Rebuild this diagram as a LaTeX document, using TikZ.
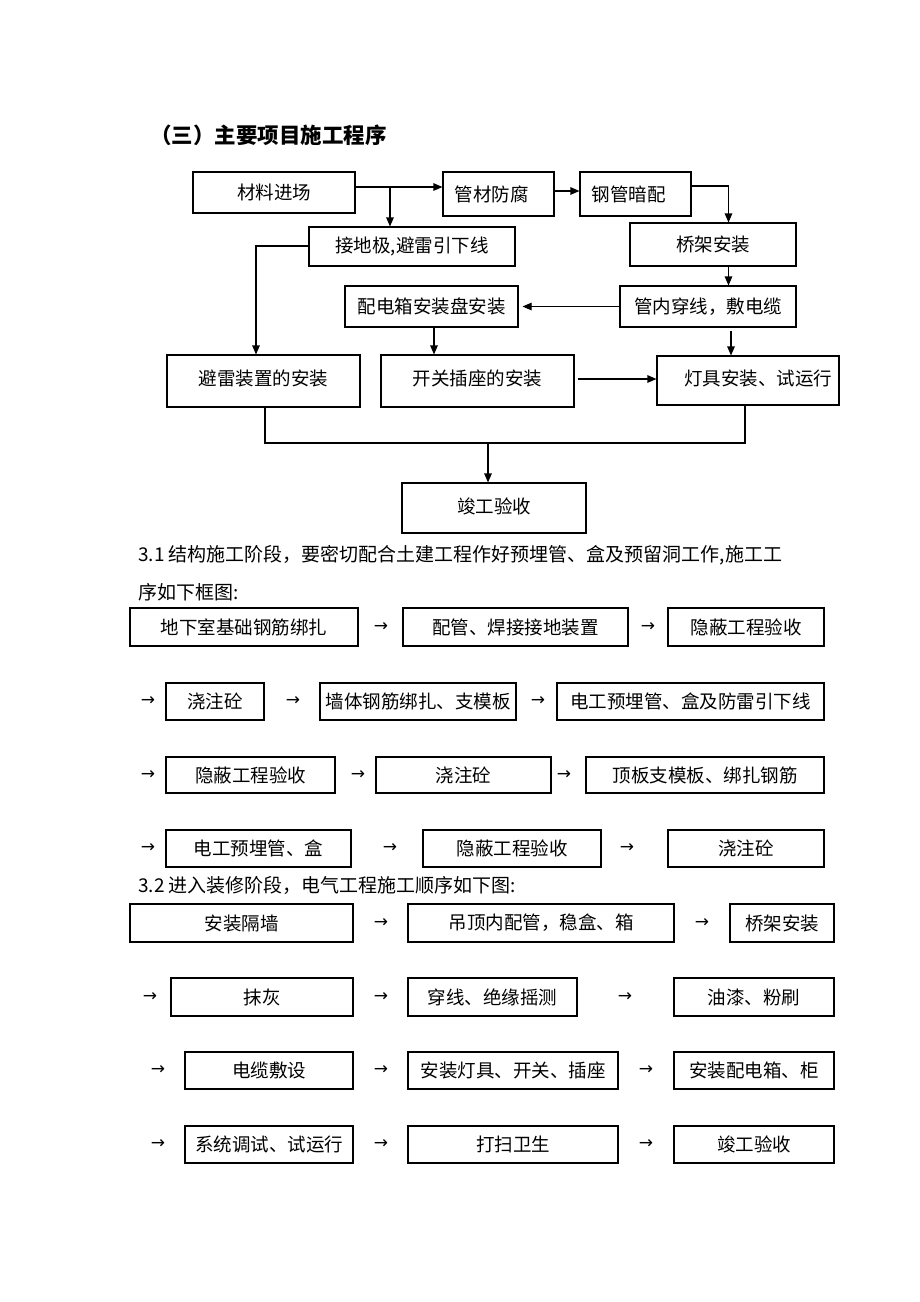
\documentclass[tikz,border=0pt]{standalone}
\usepackage{fontspec}
\setmainfont{Noto Sans CJK SC}
\newfontfamily\symfont{DejaVu Sans}
\usetikzlibrary{arrows.meta,calc}
\tikzset{
  box/.style={draw=black,line width=1.1pt,inner sep=0pt,align=center,font=\fontsize{18.5}{22}\selectfont},
  txt/.style={inner sep=0pt,anchor=west,font=\fontsize{19}{22}\selectfont},
  ttl/.style={inner sep=0pt,anchor=west,font=\fontsize{21.5}{25}\selectfont\bfseries},
  tar/.style={inner sep=0pt,font=\symfont\fontsize{17}{18}\selectfont},
  arr/.style={line width=1.1pt,-{Triangle[length=9pt,width=7.5pt]}},
  ln/.style={line width=1.1pt}
}
\newcommand\bx[6]{\node[box,minimum width={(#4)-(#2)},minimum height={(#5)-(#3)}] (#1) at ({((#2)+(#4))/2},{((#3)+(#5))/2}) {#6};}
\newcommand\ta[3]{\node[tar] (#1) at (#2,#3) {→};}
\begin{document}
\begin{tikzpicture}[x=1pt,y=-1pt]
\fill[white] (0,0) rectangle (920,1302);
\useasboundingbox (0,0) rectangle (920,1302);

\node[ttl] (title) at (150,135) {（三）主要项目施工程序};

% top flowchart
\bx{A}{193}{172}{355}{213}{材料进场}
\bx{B}{443}{172}{554}{216}{\hspace*{-14pt}管材防腐}
\bx{C}{580}{172}{691}{216}{\hspace*{-14pt}钢管暗配}
\bx{D}{309}{227}{515}{266}{接地极,避雷引下线}
\bx{E}{630}{223}{796}{266}{桥架安装}
\bx{F}{345}{286}{518}{327}{配电箱安装盘安装}
\bx{G}{620}{286}{796}{327}{管内穿线，敷电缆}
\bx{H}{167}{355}{360}{407}{\raisebox{7pt}{避雷装置的安装}}
\bx{I}{381}{355}{574}{407}{\raisebox{7pt}{开关插座的安装}}
\bx{J}{657}{356}{839}{405}{\raisebox{6pt}{\hspace*{20pt}灯具安装、试运行}}
\bx{K}{402}{483}{586}{533}{\raisebox{4pt}{竣工验收}}

\draw[arr] ([yshift=5.5pt]A.east) coordinate (ab) -- (ab -| B.west);
\coordinate (br) at (390,187);
\draw[arr] (br) -- (br |- D.north);
\draw[arr] ([yshift=3pt]B.east) -- ([yshift=3pt]C.west);
\draw[arr] ([yshift=8pt]C.east) -| ([xshift=15.5pt]E.north);
\draw[arr] ([yshift=0.5pt]D.west) -| ([xshift=-7.5pt]H.north);
\draw[arr] ([xshift=15.5pt]E.south) coordinate (eg) -- (eg |- G.north);
\draw[arr] (G.west) -- ([xshift=4pt]F.east);
\draw[arr] ([xshift=2.5pt]F.south) coordinate (fi) -- (fi |- I.north);
\draw[arr] ([xshift=23pt,yshift=-3pt]G.south) coordinate (gj) -- (gj |- J.north);
\draw[arr] ([xshift=3pt,yshift=2pt]I.east) coordinate (ij) -- (ij -| J.west);
\coordinate (m) at (488,443);
\draw[ln] ([xshift=1.5pt]H.south) |- (m);
\draw[ln] ([xshift=-3pt]J.south) |- (m);
\draw[arr] (m) -- (m |- K.north);

% 3.1
\node[txt] (p1) at (138,555) {3.1 结构施工阶段，要密切配合土建工程作好预埋管、盒及预留洞工作,施工工};
\node[txt] (p2) at (138,592) {序如下框图:};

\bx{s11}{130}{608}{358}{646}{地下室基础钢筋绑扎}
\ta{s1a}{381}{627}
\bx{s12}{403}{608}{628}{646}{配管、焊接接地装置}
\ta{s1b}{648}{627}
\bx{s13}{668}{608}{824}{646}{隐蔽工程验收}

\ta{s2a}{148}{701}
\bx{s21}{166}{683}{264}{720}{浇注砼}
\ta{s2b}{293}{701}
\bx{s22}{320}{683}{516}{720}{墙体钢筋绑扎、支模板}
\ta{s2c}{538}{701}
\bx{s23}{557}{683}{824}{720}{电工预埋管、盒及防雷引下线}

\ta{s3a}{148}{775}
\bx{s31}{166}{757}{335}{793}{隐蔽工程验收}
\ta{s3b}{358}{775}
\bx{s32}{376}{757}{551}{793}{浇注砼}
\ta{s3c}{564}{775}
\bx{s33}{586}{757}{824}{793}{顶板支模板、绑扎钢筋}

\ta{s4a}{148}{848}
\bx{s41}{166}{830}{351}{867}{电工预埋管、盒}
\ta{s4b}{390}{848}
\bx{s42}{423}{830}{601}{867}{隐蔽工程验收}
\ta{s4c}{627}{848}
\bx{s43}{668}{830}{824}{867}{浇注砼}

% 3.2
\node[txt] (p3) at (138,885) {3.2 进入装修阶段，电气工程施工顺序如下图:};

\bx{t11}{130}{904}{353}{942}{安装隔墙}
\ta{t1a}{381}{923}
\bx{t12}{408}{904}{674}{942}{吊顶内配管，稳盒、箱}
\ta{t1b}{702}{923}
\bx{t13}{730}{904}{834}{942}{桥架安装}

\ta{t2a}{150}{997}
\bx{t21}{171}{978}{353}{1016}{抹灰}
\ta{t2b}{381}{997}
\bx{t22}{408}{978}{577}{1016}{穿线、绝缘摇测}
\ta{t2c}{625}{997}
\bx{t23}{674}{978}{834}{1016}{油漆、粉刷}

\ta{t3a}{158}{1070}
\bx{t31}{185}{1052}{353}{1089}{电缆敷设}
\ta{t3b}{381}{1070}
\bx{t32}{408}{1052}{618}{1089}{安装灯具、开关、插座}
\ta{t3c}{646}{1070}
\bx{t33}{674}{1052}{834}{1089}{安装配电箱、柜}

\ta{t4a}{158}{1144}
\bx{t41}{185}{1126}{353}{1163}{系统调试、试运行}
\ta{t4b}{381}{1144}
\bx{t42}{408}{1126}{618}{1163}{打扫卫生}
\ta{t4c}{646}{1144}
\bx{t43}{674}{1126}{834}{1163}{竣工验收}
\end{tikzpicture}
\end{document}
